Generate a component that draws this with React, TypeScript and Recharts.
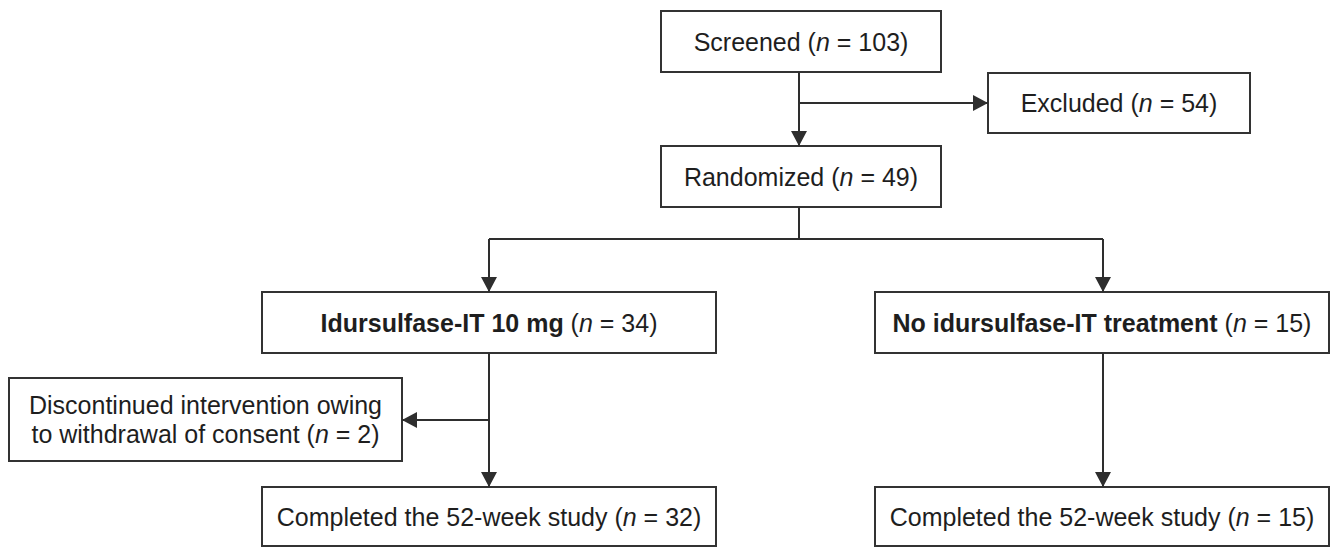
import {
  ComposedChart,
  XAxis,
  YAxis,
  ReferenceArea,
  ReferenceLine,
  Scatter,
} from "recharts";

// flowchart nodes, in page coordinates (x left→right, y top→bottom)
const boxIds = ["screened", "excluded", "randomized", "treated", "untreated", "discontinued", "doneTreated", "doneUntreated"];

const boxText = [
  ["Screened (_n_ = 103)"],
  ["Excluded (_n_ = 54)"],
  ["Randomized (_n_ = 49)"],
  ["**Idursulfase-IT 10 mg** (_n_ = 34)"],
  ["**No idursulfase-IT treatment** (_n_ = 15)"],
  ["Discontinued intervention owing", "to withdrawal of consent (_n_ = 2)"],
  ["Completed the 52-week study (_n_ = 32)"],
  ["Completed the 52-week study (_n_ = 15)"],
];

const boxLeft = [661, 988, 661, 262, 875, 9, 262, 875];
const boxRight = [941, 1250, 941, 716, 1329, 402, 716, 1329];
const boxTop = [11, 73, 146, 292, 292, 378, 487, 487];
const boxBottom = [72, 133, 207, 353, 353, 461, 546, 546];

// connector segments
const linkFrom = [
  { x: 799, y: 72 },
  { x: 799, y: 103 },
  { x: 799, y: 207 },
  { x: 489, y: 239 },
  { x: 489, y: 239 },
  { x: 1103, y: 239 },
  { x: 489, y: 353 },
  { x: 489, y: 420 },
  { x: 1103, y: 353 },
];
const linkTo = [
  { x: 799, y: 146 },
  { x: 988, y: 103 },
  { x: 799, y: 239 },
  { x: 1103, y: 239 },
  { x: 489, y: 292 },
  { x: 1103, y: 292 },
  { x: 489, y: 487 },
  { x: 402, y: 420 },
  { x: 1103, y: 487 },
];

// arrow heads (tip point + direction)
const arrowTips = [
  { x: 799, y: 146, dir: "down" },
  { x: 988, y: 103, dir: "right" },
  { x: 489, y: 292, dir: "down" },
  { x: 1103, y: 292, dir: "down" },
  { x: 489, y: 487, dir: "down" },
  { x: 402, y: 420, dir: "left" },
  { x: 1103, y: 487, dir: "down" },
];

const W = 1337;
const H = 547;
const INK = "#2e2e2e";
const FONT = "'Liberation Sans', Arial, Helvetica, sans-serif";

const labelPoints = boxIds.map((id, i) => ({
  id,
  x: (boxLeft[i] + boxRight[i]) / 2,
  y: (boxTop[i] + boxBottom[i]) / 2,
  lines: boxText[i],
}));

// "**bold**" and "_italic_" pieces
function parse(s: string) {
  return s
    .split(/(\*\*[^*]+\*\*|_[^_]+_)/)
    .filter((p) => p.length > 0)
    .map((p) => {
      if (p.startsWith("**")) return { t: p.slice(2, -2), b: true, i: false };
      if (p.startsWith("_")) return { t: p.slice(1, -1), b: false, i: true };
      return { t: p, b: false, i: false };
    });
}

const ArrowHead = (props: any) => {
  const { cx, cy, payload } = props;
  if (cx == null || cy == null) return null;
  let pts = "";
  if (payload.dir === "down") {
    pts = `${cx},${cy} ${cx - 8},${cy - 15} ${cx + 8},${cy - 15}`;
  } else if (payload.dir === "right") {
    pts = `${cx},${cy} ${cx - 15},${cy - 8} ${cx - 15},${cy + 8}`;
  } else {
    pts = `${cx},${cy} ${cx + 15},${cy - 8} ${cx + 15},${cy + 8}`;
  }
  return <polygon points={pts} fill={INK} />;
};

const BoxLabel = (props: any) => {
  const { cx, cy, payload } = props;
  if (cx == null || cy == null) return null;
  const lines: string[] = payload.lines;
  const n = lines.length;
  return (
    <text
      textAnchor="middle"
      fontFamily={FONT}
      fontSize={25}
      fill="#1e1e1e"
    >
      {lines.map((ln, k) => (
        <tspan key={k} x={cx} y={cy + 9 + (k - (n - 1) / 2) * 29}>
          {parse(ln).map((seg, j) => (
            <tspan
              key={j}
              fontWeight={seg.b ? "bold" : "normal"}
              fontStyle={seg.i ? "italic" : "normal"}
            >
              {seg.t}
            </tspan>
          ))}
        </tspan>
      ))}
    </text>
  );
};

export default function App() {
  return (
    <div style={{ position: "absolute", left: 0, top: 0, background: "#fff" }}>
      <ComposedChart
        width={W}
        height={H}
        margin={{ top: 0, right: 0, bottom: 0, left: 0 }}
      >
        <XAxis type="number" dataKey="x" domain={[0, W]} hide />
        <YAxis type="number" dataKey="y" domain={[0, H]} reversed hide />

        {linkFrom.map((a, i) => (
          <ReferenceLine
            key={"l" + i}
            segment={[a, linkTo[i]]}
            stroke={INK}
            strokeWidth={2}
          />
        ))}

        {boxIds.map((id, i) => (
          <ReferenceArea
            key={id}
            x1={boxLeft[i]}
            x2={boxRight[i]}
            y1={boxTop[i]}
            y2={boxBottom[i]}
            fill="#ffffff"
            fillOpacity={1}
            stroke="#333333"
            strokeWidth={2}
          />
        ))}

        <Scatter
          data={arrowTips}
          dataKey="y"
          shape={ArrowHead}
          isAnimationActive={false}
        />
        <Scatter
          data={labelPoints}
          dataKey="y"
          shape={BoxLabel}
          isAnimationActive={false}
        />
      </ComposedChart>
    </div>
  );
}
